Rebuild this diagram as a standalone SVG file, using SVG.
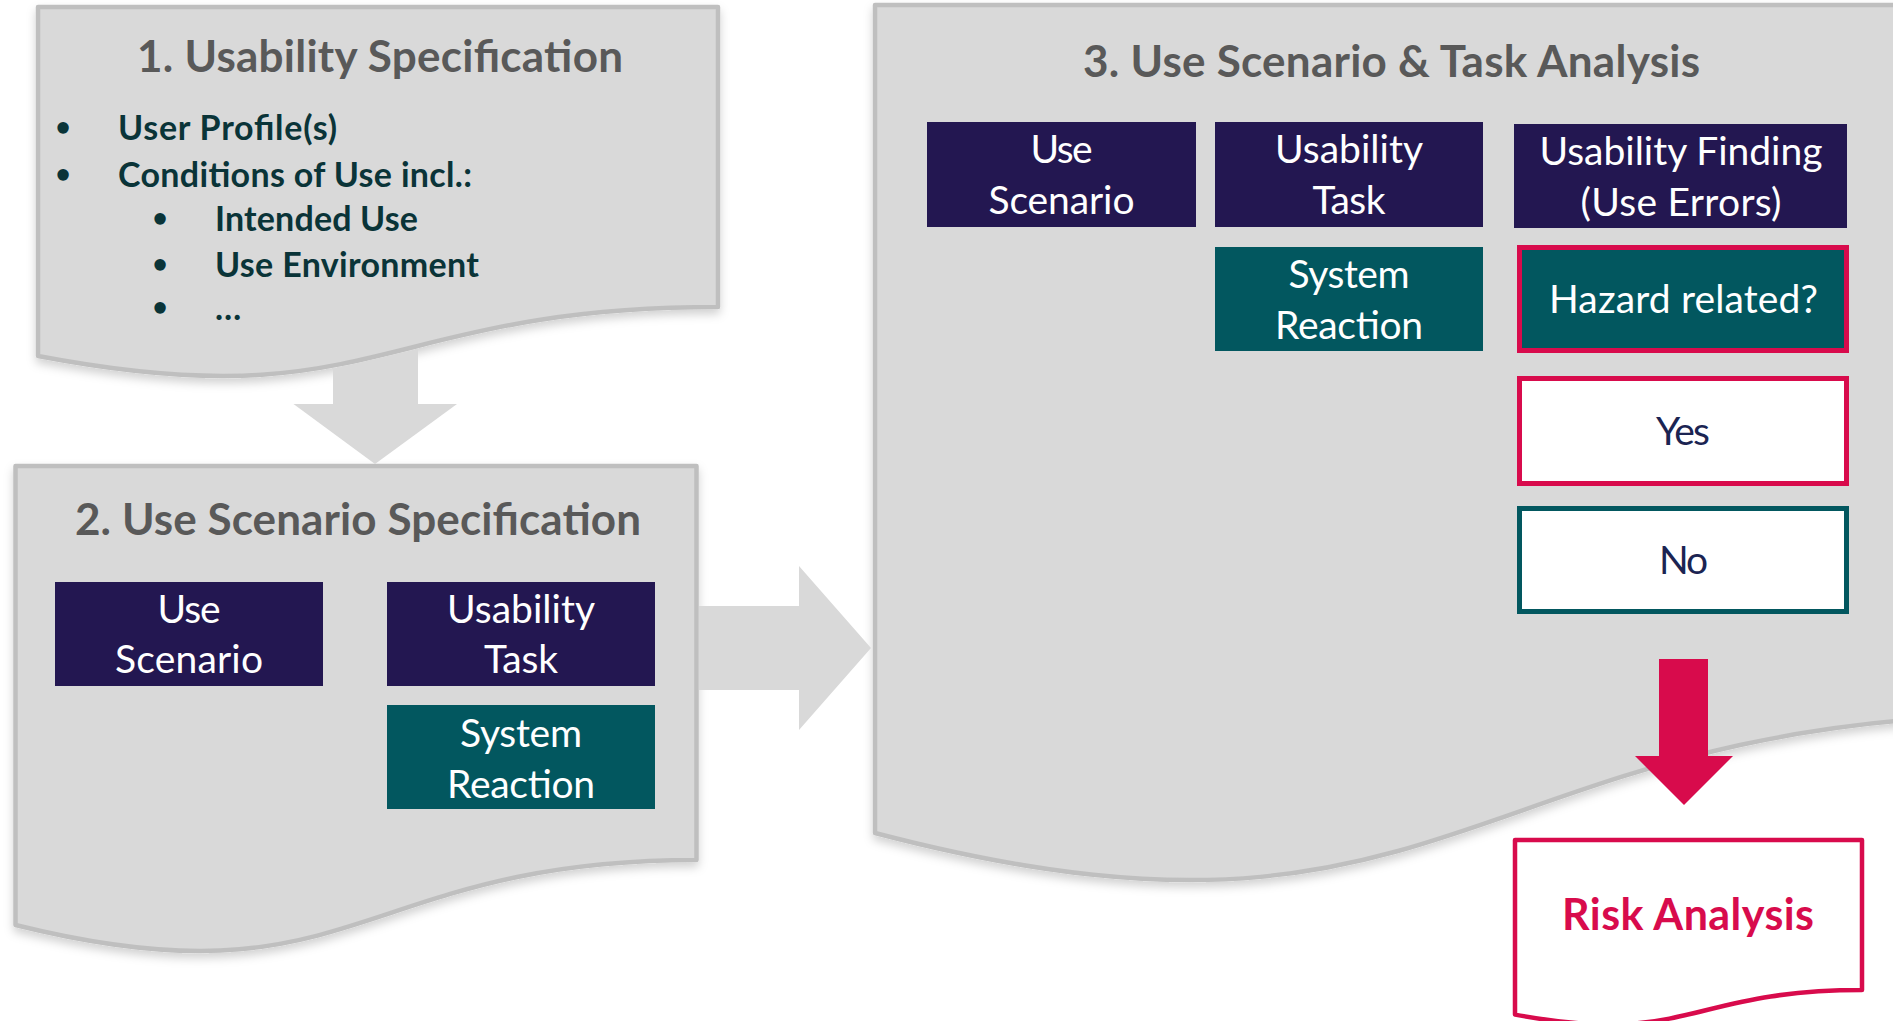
<svg xmlns="http://www.w3.org/2000/svg" width="1893" height="1021" viewBox="0 0 1893 1021">
<defs>
<filter id="sh" x="-5%" y="-5%" width="110%" height="115%">
<feDropShadow dx="0" dy="5" stdDeviation="5" flood-color="#000" flood-opacity="0.18"/>
</filter>
<style>
.doc{fill:#d9d9d9;stroke:#bfbfbf;stroke-width:4.5;stroke-linejoin:round}
.title{font-family:Lato,"Open Sans",sans-serif;font-weight:700;font-size:44px;fill:#595959;text-anchor:middle}
.bul{font-family:Lato,"Open Sans",sans-serif;font-weight:700;font-size:34px;fill:#0a3438}
.dot{font-family:Lato,"Open Sans",sans-serif;font-weight:700;font-size:26px;fill:#0a3438;text-anchor:middle}
.indigo{fill:#231751}
.teal{fill:#02575f}
.bt{font-family:Lato,"Open Sans",sans-serif;font-size:39px;fill:#ffffff;text-anchor:middle}
.nt{font-family:Lato,"Open Sans",sans-serif;font-size:39px;fill:#1b2452;text-anchor:middle}
.redb{stroke:#d80b4c;stroke-width:5}
.tealb{stroke:#02575f;stroke-width:5}
.white{fill:#ffffff}
.garrow{fill:#d9d9d9}
.rarrow{fill:#d80b4c}
.risk{fill:#ffffff;stroke:#d80b4c;stroke-width:4.5;stroke-linejoin:round}
.rt{font-family:Lato,"Open Sans",sans-serif;font-weight:700;font-size:43px;fill:#d80b4c;text-anchor:middle}
</style>
</defs>
<rect width="1893" height="1021" fill="#ffffff"/>

<g id="doc1">
<path class="doc" filter="url(#sh)" d="M38,7 H718 V307 C378,307 378,421 38,356 Z"/>
<text class="title" x="380" y="72" textLength="486">1. Usability Specification</text>
<text class="dot" x="63" y="136">•</text>
<text class="bul" x="118" y="140" textLength="219">User Profile(s)</text>
<text class="dot" x="63" y="183">•</text>
<text class="bul" x="118" y="187" textLength="354">Conditions of Use incl.:</text>
<text class="dot" x="160" y="227">•</text>
<text class="bul" x="215" y="231" textLength="203">Intended Use</text>
<text class="dot" x="160" y="273">•</text>
<text class="bul" x="215" y="277" textLength="264">Use Environment</text>
<text class="dot" x="160" y="316">•</text>
<text class="bul" x="215" y="320">…</text>
</g>

<g id="doc2">
<path class="doc" filter="url(#sh)" d="M15.5,466 H696.5 V860 C356,860 356,1010 15.5,925 Z"/>
<text class="title" x="358" y="535" textLength="566">2. Use Scenario Specification</text>
<g id="doc2-use-scenario">
<rect class="indigo" x="55" y="582" width="268" height="104"/>
<text class="bt" x="189" y="623" textLength="63">Use</text>
<text class="bt" x="189" y="673" textLength="148">Scenario</text>
</g>
<g id="doc2-usability-task">
<rect class="indigo" x="387" y="582" width="268" height="104"/>
<text class="bt" x="521" y="623" textLength="148">Usability</text>
<text class="bt" x="521" y="673" textLength="74">Task</text>
</g>
<g id="doc2-system-reaction">
<rect class="teal" x="387" y="705" width="268" height="104"/>
<text class="bt" x="521" y="747" textLength="122">System</text>
<text class="bt" x="521" y="798" textLength="148">Reaction</text>
</g>
</g>

<g id="doc3">
<path class="doc" filter="url(#sh)" d="M875,5 H2050 V714 C1462,714 1462,987 875,833 Z"/>
<text class="title" x="1391.5" y="77" textLength="617">3. Use Scenario &amp; Task Analysis</text>
<g id="doc3-use-scenario">
<rect class="indigo" x="927" y="122" width="269" height="105"/>
<text class="bt" x="1061.5" y="163" textLength="62">Use</text>
<text class="bt" x="1061.5" y="214" textLength="146">Scenario</text>
</g>
<g id="doc3-usability-task">
<rect class="indigo" x="1215" y="122" width="268" height="105"/>
<text class="bt" x="1349" y="163" textLength="148">Usability</text>
<text class="bt" x="1349" y="214" textLength="73">Task</text>
</g>
<g id="doc3-usability-finding">
<rect class="indigo" x="1514" y="124" width="333" height="104"/>
<text class="bt" x="1681" y="165" textLength="283">Usability Finding</text>
<text class="bt" x="1681" y="215.5" textLength="201">(Use Errors)</text>
</g>
<g id="doc3-system-reaction">
<rect class="teal" x="1215" y="247" width="268" height="104"/>
<text class="bt" x="1349" y="288" textLength="121">System</text>
<text class="bt" x="1349" y="339" textLength="148">Reaction</text>
</g>
<g id="hazard">
<rect class="teal redb" x="1519.5" y="247.5" width="327" height="103"/>
<text class="bt" x="1683.5" y="313" textLength="269">Hazard related?</text>
</g>
<g id="yes">
<rect class="white redb" x="1519.5" y="378.5" width="327" height="105"/>
<text class="nt" x="1683" y="445" textLength="54">Yes</text>
</g>
<g id="no">
<rect class="white tealb" x="1519.5" y="508.5" width="327" height="103"/>
<text class="nt" x="1683.5" y="573.5" textLength="49">No</text>
</g>
</g>

<g id="risk-analysis">
<path class="risk" d="M1515,840 H1862 V990 C1688.5,990 1688.5,1047 1515,1014.6 Z"/>
<text class="rt" x="1688" y="930" textLength="252">Risk Analysis</text>
</g>

<g id="connectors">
<path class="garrow" d="M333,369 L418,349 L418,404 L457,404 L375,464 L293.5,404 L333,404 Z"/>
<path class="garrow" d="M699,606 L799,606 L799,566 L871,648 L799,730 L799,690 L699,690 Z"/>
<path class="rarrow" d="M1659,659 L1708,659 L1708,756 L1733,756 L1684,805 L1635,756 L1659,756 Z"/>
</g>
</svg>
